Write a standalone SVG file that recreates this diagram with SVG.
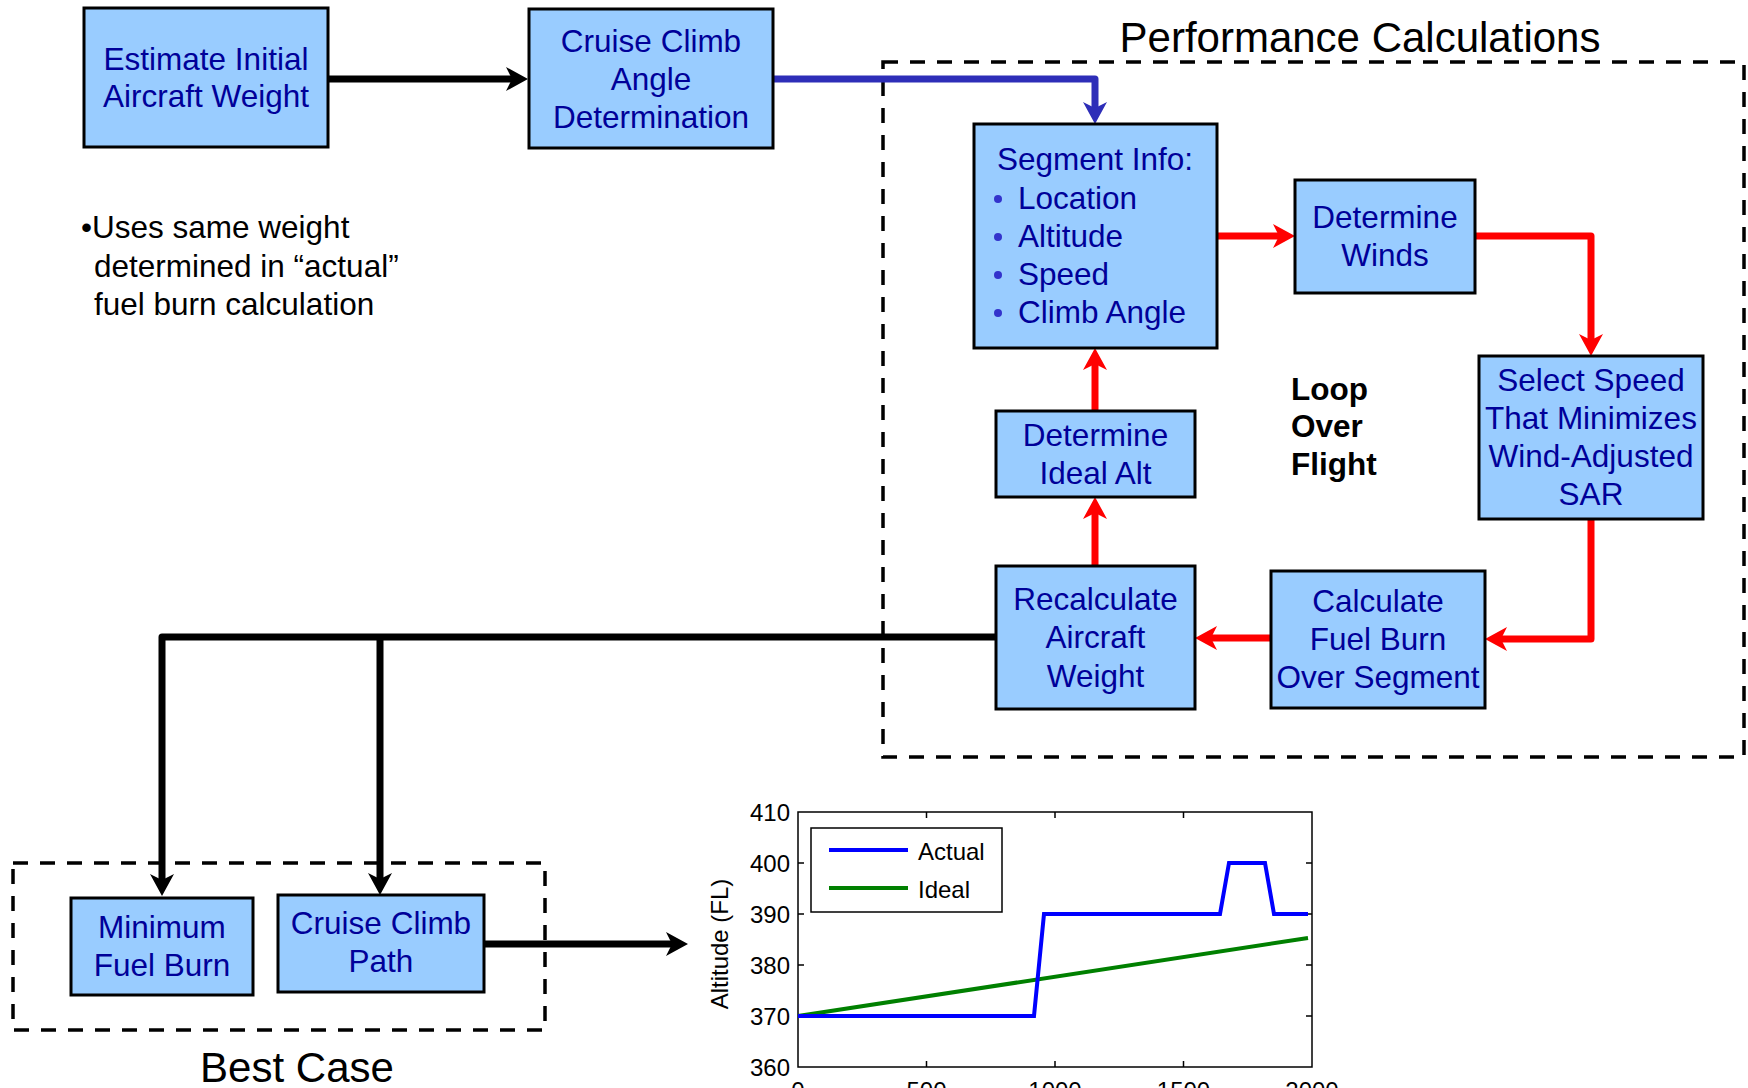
<svg xmlns="http://www.w3.org/2000/svg" width="1748" height="1088" viewBox="0 0 1748 1088">
<style>
.box{fill:#99CCFF;stroke:#000;stroke-width:3}
.lbl{font-family:"Liberation Sans",Arial,Helvetica,sans-serif;font-size:31.5px;fill:#000099;text-anchor:middle}
.lft{text-anchor:start}
.note{font-family:"Liberation Sans",Arial,Helvetica,sans-serif;font-size:31.5px;fill:#000}
.loop{font-family:"Liberation Sans",Arial,Helvetica,sans-serif;font-size:31.5px;font-weight:bold;fill:#000}
.title{font-family:"Liberation Sans",Arial,Helvetica,sans-serif;font-size:42px;fill:#000;text-anchor:middle}
.dash{fill:none;stroke:#000;stroke-width:3.5;stroke-dasharray:15 12}
.con{fill:none;stroke-width:7;stroke-linejoin:round}
.blk{stroke:#000}
.red{stroke:#FF0000}
.blu{stroke:#2E2EB8}
.tick{font-family:"Liberation Sans",Arial,Helvetica,sans-serif;font-size:24px;fill:#000}
.ax{fill:none;stroke:#000;stroke-width:1.5}
</style>
<defs>
<marker id="ak" markerUnits="userSpaceOnUse" viewBox="-12 -13 26 26" refX="0" refY="0" markerWidth="26" markerHeight="26" orient="auto"><path d="M12,0 L-10,-12 L-4,0 L-10,12 Z" fill="#000"/></marker>
<marker id="ar" markerUnits="userSpaceOnUse" viewBox="-12 -13 26 26" refX="0" refY="0" markerWidth="26" markerHeight="26" orient="auto"><path d="M12,0 L-10,-12 L-4,0 L-10,12 Z" fill="#FF0000"/></marker>
<marker id="ab" markerUnits="userSpaceOnUse" viewBox="-12 -13 26 26" refX="0" refY="0" markerWidth="26" markerHeight="26" orient="auto"><path d="M12,0 L-10,-12 L-4,0 L-10,12 Z" fill="#2E2EB8"/></marker>
</defs>
<rect width="1748" height="1088" fill="#fff"/>

<g id="groups">
<rect class="dash" x="883" y="62" width="861" height="695"/>
<text class="title" x="1360" y="52">Performance Calculations</text>
<rect class="dash" x="13" y="863" width="532" height="167"/>
<text class="title" x="297" y="1082">Best Case</text>
</g>

<g id="connectors">
<path class="con blk" d="M328,79 H516" marker-end="url(#ak)"/>
<path class="con blu" d="M773,79 H1095 V112" marker-end="url(#ab)"/>
<path class="con red" d="M1217,236 H1283" marker-end="url(#ar)"/>
<path class="con red" d="M1475,236 H1591 V344" marker-end="url(#ar)"/>
<path class="con red" d="M1591,519 V639 H1497" marker-end="url(#ar)"/>
<path class="con red" d="M1271,638 H1207" marker-end="url(#ar)"/>
<path class="con red" d="M1095,566 V509" marker-end="url(#ar)"/>
<path class="con red" d="M1095,411 V360" marker-end="url(#ar)"/>
<path class="con blk" d="M996,637 H162 V884" marker-end="url(#ak)"/>
<path class="con blk" d="M380,637 V883" marker-end="url(#ak)"/>
<path class="con blk" d="M484,944 H676" marker-end="url(#ak)"/>
</g>

<g id="estimate">
<rect class="box" x="84" y="8" width="244" height="139"/>
<text class="lbl" x="206" y="70">Estimate Initial</text>
<text class="lbl" x="206" y="107">Aircraft Weight</text>
</g>

<g id="cruise-angle">
<rect class="box" x="529" y="9" width="244" height="139"/>
<text class="lbl" x="651" y="52">Cruise Climb</text>
<text class="lbl" x="651" y="90">Angle</text>
<text class="lbl" x="651" y="128">Determination</text>
</g>

<g id="note">
<text class="note" x="81" y="238">•Uses same weight</text>
<text class="note" x="94" y="276.5">determined in “actual”</text>
<text class="note" x="94" y="315">fuel burn calculation</text>
</g>

<g id="segment-info">
<rect class="box" x="974" y="124" width="243" height="224"/>
<text class="lbl" x="1095" y="170">Segment Info:</text>
<g fill="#3333CC"><circle cx="998" cy="199" r="4"/><circle cx="998" cy="237" r="4"/><circle cx="998" cy="275" r="4"/><circle cx="998" cy="313" r="4"/></g>
<text class="lbl lft" x="1018" y="209">Location</text>
<text class="lbl lft" x="1018" y="247">Altitude</text>
<text class="lbl lft" x="1018" y="285">Speed</text>
<text class="lbl lft" x="1018" y="323">Climb Angle</text>
</g>

<g id="winds">
<rect class="box" x="1295" y="180" width="180" height="113"/>
<text class="lbl" x="1385" y="228">Determine</text>
<text class="lbl" x="1385" y="266">Winds</text>
</g>

<g id="select-speed">
<rect class="box" x="1479" y="356" width="224" height="163"/>
<text class="lbl" x="1591" y="391">Select Speed</text>
<text class="lbl" x="1591" y="429">That Minimizes</text>
<text class="lbl" x="1591" y="467">Wind-Adjusted</text>
<text class="lbl" x="1591" y="505">SAR</text>
</g>

<g id="calc-fuel">
<rect class="box" x="1271" y="571" width="214" height="137"/>
<text class="lbl" x="1378" y="612">Calculate</text>
<text class="lbl" x="1378" y="650">Fuel Burn</text>
<text class="lbl" x="1378" y="688">Over Segment</text>
</g>

<g id="recalc">
<rect class="box" x="996" y="566" width="199" height="143"/>
<text class="lbl" x="1095.5" y="610">Recalculate</text>
<text class="lbl" x="1095.5" y="648">Aircraft</text>
<text class="lbl" x="1095.5" y="687">Weight</text>
</g>

<g id="ideal-alt">
<rect class="box" x="996" y="411" width="199" height="86"/>
<text class="lbl" x="1095.5" y="446">Determine</text>
<text class="lbl" x="1095.5" y="484">Ideal Alt</text>
</g>

<g id="loop-label">
<text class="loop" x="1291" y="400">Loop</text>
<text class="loop" x="1291" y="437">Over</text>
<text class="loop" x="1291" y="475">Flight</text>
</g>

<g id="min-fuel">
<rect class="box" x="71" y="898" width="182" height="97"/>
<text class="lbl" x="162" y="938">Minimum</text>
<text class="lbl" x="162" y="976">Fuel Burn</text>
</g>

<g id="cruise-path">
<rect class="box" x="278" y="895" width="206" height="97"/>
<text class="lbl" x="381" y="934">Cruise Climb</text>
<text class="lbl" x="381" y="972">Path</text>
</g>

<g id="plot">
<rect x="798" y="812" width="514" height="255" fill="#fff" stroke="#000" stroke-width="1.5"/>
<path class="ax" d="M798,863 h6 M798,914 h6 M798,965 h6 M798,1016 h6 M1312,863 h-6 M1312,914 h-6 M1312,965 h-6 M1312,1016 h-6 M926.5,1067 v-6 M1055,1067 v-6 M1183.5,1067 v-6 M926.5,812 v6 M1055,812 v6 M1183.5,812 v6"/>
<g class="tick" text-anchor="end">
<text x="790" y="820.6">410</text>
<text x="790" y="871.6">400</text>
<text x="790" y="922.6">390</text>
<text x="790" y="973.6">380</text>
<text x="790" y="1024.6">370</text>
<text x="790" y="1075.6">360</text>
</g>
<g class="tick" text-anchor="middle">
<text x="798" y="1099">0</text>
<text x="926.5" y="1099">500</text>
<text x="1055" y="1099">1000</text>
<text x="1183.5" y="1099">1500</text>
<text x="1312" y="1099">2000</text>
</g>
<text class="tick" font-size="25" text-anchor="middle" transform="translate(728,944) rotate(-90)">Altitude (FL)</text>
<polyline points="798,1016 1308,938" fill="none" stroke="#008000" stroke-width="4"/>
<polyline points="798,1016 1034,1016 1044,914 1220,914 1229,863 1265,863 1274,914 1308,914" fill="none" stroke="#0000FF" stroke-width="4"/>
<rect x="811" y="828" width="191" height="84" fill="#fff" stroke="#000" stroke-width="1.5"/>
<line x1="829" y1="850" x2="908" y2="850" stroke="#0000FF" stroke-width="4"/>
<line x1="829" y1="888" x2="908" y2="888" stroke="#008000" stroke-width="4"/>
<text class="tick" x="918" y="860">Actual</text>
<text class="tick" x="918" y="898">Ideal</text>
</g>
</svg>
